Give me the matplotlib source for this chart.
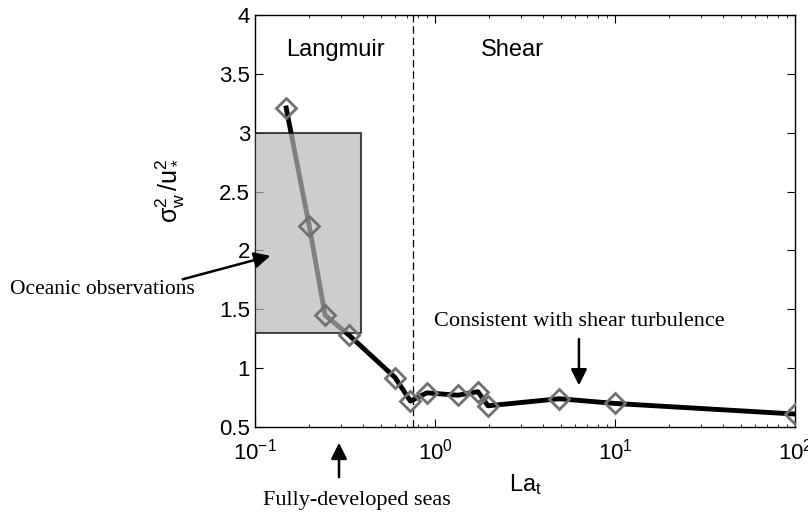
import numpy as np
import matplotlib
matplotlib.use('Agg')
import matplotlib.pyplot as plt
from matplotlib.patches import Rectangle

# turbulent Langmuir number and normalised vertical velocity variance
la_t = [0.149, 0.20, 0.245, 0.333, 0.60, 0.73, 0.90, 1.34, 1.73, 1.97, 4.9, 10.0, 100.0]
sigma_w = [3.21, 2.21, 1.45, 1.28, 0.92, 0.72, 0.79, 0.77, 0.80, 0.68, 0.74, 0.70, 0.61]

la_split = 0.75          # Langmuir / shear boundary
obs_la = [0.1, 0.39]     # range of oceanic observations
obs_sig = [1.3, 3.0]

plt.rcParams['font.family'] = ['Liberation Sans', 'DejaVu Sans']
plt.rcParams['mathtext.fontset'] = 'custom'
plt.rcParams['mathtext.rm'] = 'Liberation Sans'
plt.rcParams['mathtext.it'] = 'Liberation Sans:italic'
plt.rcParams['axes.unicode_minus'] = False
serif = 'Liberation Serif'

fig = plt.figure(figsize=(8.08, 5.16), dpi=100)
ax = fig.add_axes([0.3156, 0.1725, 0.6684, 0.7985])

ax.plot(la_t, sigma_w, color='black', lw=3.5, zorder=2)
ax.add_patch(Rectangle((obs_la[0], obs_sig[0]), obs_la[1] - obs_la[0],
                       obs_sig[1] - obs_sig[0], facecolor='#b8b8b8', alpha=0.7,
                       edgecolor='black', lw=1.5, zorder=3))
ax.plot(la_t, sigma_w, ls='none', marker='D', ms=10, mfc='none', mec='#707070',
        mew=2, zorder=4)
ax.axvline(la_split, color='black', ls=(0, (6, 3)), lw=0.9, zorder=1)

ax.set_xscale('log')
ax.set_xlim(0.1, 100)
ax.set_ylim(0.5, 4)
ax.set_xticks([0.1, 1, 10, 100])
ax.set_xticklabels(['$\\mathregular{10^{-1}}$', '$\\mathregular{10^{0}}$',
                    '$\\mathregular{10^{1}}$', '$\\mathregular{10^{2}}$'])
ax.set_yticks(np.arange(0.5, 4.01, 0.5))
ax.set_yticklabels(['0.5', '1', '1.5', '2', '2.5', '3', '3.5', '4'])
ax.tick_params(which='both', direction='in', top=True, right=True, labelsize=16)
ax.tick_params(which='major', length=6)
ax.tick_params(axis='x', pad=8)
for s in ax.spines.values():
    s.set_linewidth(1.0)

ax.set_xlabel('La$_\\mathregular{t}$', fontsize=17, labelpad=6)
ax.set_ylabel('$\\mathregular{\\sigma_w^2\\,/u_*^2}$', fontsize=18)
ax.yaxis.set_label_coords(-0.126, 0.573)

ax.text(0.278, 3.70, 'Langmuir', fontsize=17, ha='center', va='center')
ax.text(2.68, 3.70, 'Shear', fontsize=17, ha='center', va='center')

# annotations outside the data area
fig.text(10 / 808, 1 - 290 / 516, 'Oceanic observations', family=serif,
         fontsize=15.5, va='center', ha='left')
ax.annotate('', xy=(0.126, 1.96), xycoords='data',
            xytext=(180 / 808, 1 - 280 / 516), textcoords='figure fraction',
            arrowprops=dict(arrowstyle='-|>', color='black', lw=1.8,
                            mutation_scale=24), annotation_clip=False)

ax.text(6.3, 1.4, 'Consistent with shear turbulence', family=serif,
        fontsize=16, ha='center', va='center')
ax.annotate('', xy=(6.3, 0.83), xytext=(6.3, 1.27),
            arrowprops=dict(arrowstyle='-|>', color='black', lw=1.8,
                            mutation_scale=24))

fig.text(357 / 808, 1 - 500 / 516, 'Fully-developed seas', family=serif,
         fontsize=16, ha='center', va='center')
ax.annotate('', xy=(339 / 808, 1 - 440 / 516), xycoords='figure fraction',
            xytext=(339 / 808, 1 - 480 / 516), textcoords='figure fraction',
            arrowprops=dict(arrowstyle='-|>', color='black', lw=1.8,
                            mutation_scale=24))

fig.savefig('out.png', dpi=100)
